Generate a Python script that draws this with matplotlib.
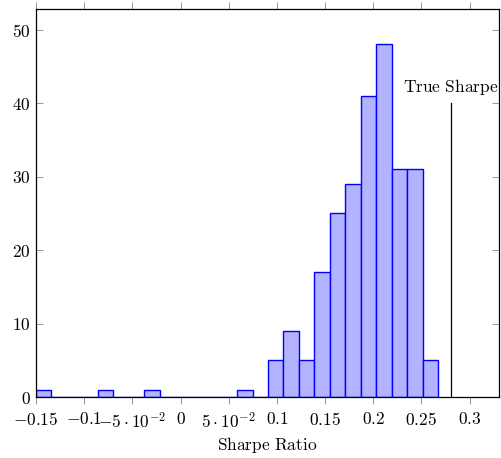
import matplotlib
matplotlib.use("Agg")
import matplotlib.pyplot as plt
import numpy as np

plt.rcParams['mathtext.fontset'] = 'cm'
plt.rcParams['font.family'] = 'serif'
plt.rcParams['font.serif'] = ['cmr10', 'DejaVu Serif']
plt.rcParams['axes.formatter.use_mathtext'] = True

# Histogram data
bin_start = -0.15
bin_width = 0.01605
counts = [1, 0, 0, 0, 1, 0, 0, 1, 0, 0, 0, 0, 0, 1, 0,
          5, 9, 5, 17, 25, 29, 41, 48, 31, 31, 5]
true_sharpe = 0.2808
true_sharpe_height = 40

xticks = [-0.15, -0.1, -0.05, 0, 0.05, 0.1, 0.15, 0.2, 0.25, 0.3]
xticklabels = [r'$-0.15$', r'$-0.1$', r'$-5\cdot10^{-2}$', r'$0$', r'$5\cdot10^{-2}$',
               r'$0.1$', r'$0.15$', r'$0.2$', r'$0.25$', r'$0.3$']
yticks = [0, 10, 20, 30, 40, 50]
yticklabels = [r'$0$', r'$10$', r'$20$', r'$30$', r'$40$', r'$50$']

fs = 12.5
fig = plt.figure(figsize=(5.02, 4.58), dpi=100)
ax = fig.add_axes([36/502, 1-397/458, (499-36)/502, (397-9)/458])

lefts = bin_start + bin_width*np.arange(len(counts))
ax.bar(lefts, counts, width=bin_width, align='edge',
       facecolor='#b3b3ff', edgecolor='#0000ff', linewidth=1.0, zorder=2)

ax.plot([true_sharpe, true_sharpe], [0, true_sharpe_height], color='black', linewidth=0.9, zorder=3)
ax.text(true_sharpe, true_sharpe_height + 1.5, r'$\mathrm{True\ Sharpe}$', ha='center', va='baseline',
        fontsize=fs, zorder=4)

ax.set_xlim(-0.15, 0.3305)
ax.set_ylim(0, 52.8)
ax.set_xticks(xticks)
ax.set_xticklabels(xticklabels, fontsize=fs)
ax.set_yticks(yticks)
ax.set_yticklabels(yticklabels, fontsize=fs)
ax.tick_params(axis='y', direction='in', length=5, width=0.6, color='#888888',
               left=True, right=True, pad=4)
ax.tick_params(axis='x', direction='out', length=5, width=0.6, color='#888888',
               top=True, bottom=True, pad=5)
for s in ax.spines.values():
    s.set_linewidth(0.9)
    s.set_color('black')
ax.set_xlabel(r'$\mathrm{Sharpe\ Ratio}$', fontsize=fs, labelpad=3)

fig.savefig('out.png', dpi=100)
